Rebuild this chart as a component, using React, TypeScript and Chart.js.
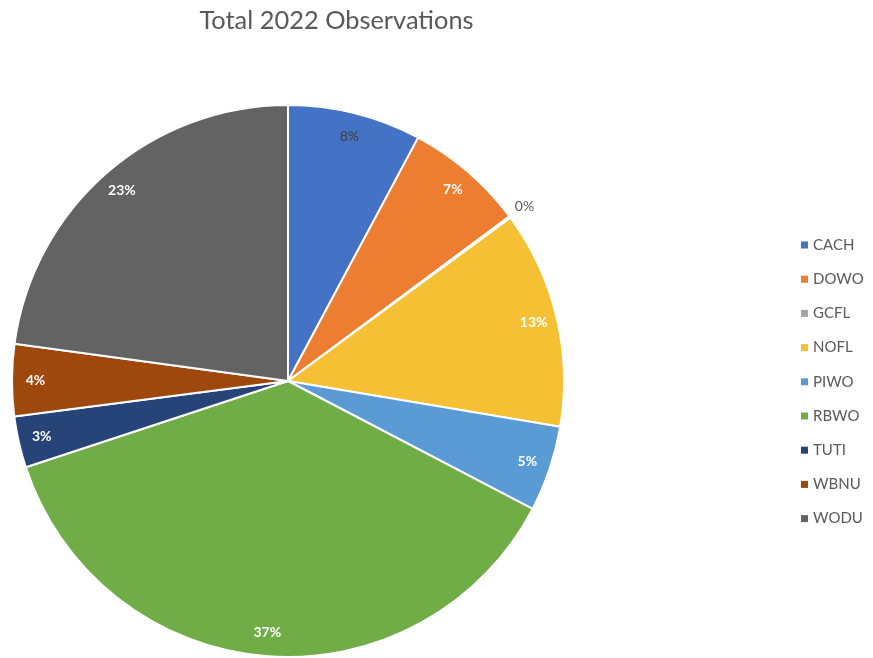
import React, { useEffect, useRef } from "react";
import { Chart, registerables } from "chart.js";

Chart.register(...registerables);

const TITLE = "Total 2022 Observations";
const CATEGORIES = ["CACH", "DOWO", "GCFL", "NOFL", "PIWO", "RBWO", "TUTI", "WBNU", "WODU"];
const COUNTS = [78, 70, 1, 127, 50, 372, 30, 42, 228];
const COLORS = ["#4472C4", "#ED7D31", "#A5A5A5", "#F5C033", "#5B9BD5", "#70AD47", "#264478", "#9E480E", "#636363"];
const LABEL_COLORS = ["#404040", "#FFFFFF", "#595959", "#FFFFFF", "#FFFFFF", "#FFFFFF", "#FFFFFF", "#FFFFFF", "#FFFFFF"];

const FONT = "Lato, 'Open Sans', sans-serif";

const overlayPlugin = {
  id: "overlay",
  afterDatasetsDraw(chart: any) {
    const ctx = chart.ctx;
    const meta = chart.getDatasetMeta(0);
    const data = chart.data.datasets[0].data as number[];
    const total = data.reduce((a, b) => a + b, 0);
    ctx.save();
    ctx.textAlign = "center";
    ctx.textBaseline = "middle";
    meta.data.forEach((arc: any, i: number) => {
      const p = arc.getProps(["x", "y", "startAngle", "endAngle", "outerRadius"], true);
      const mid = (p.startAngle + p.endAngle) / 2;
      const pct = Math.round((data[i] / total) * 100);
      const f = pct < 1 ? 1.065 : 0.915;
      const r = p.outerRadius * f;
      const white = LABEL_COLORS[i] === "#FFFFFF";
      ctx.font = `${white ? "bold " : ""}14px ${FONT}`;
      ctx.fillStyle = LABEL_COLORS[i];
      ctx.fillText(pct + "%", p.x + Math.cos(mid) * r, p.y + Math.sin(mid) * r);
    });
    // title
    ctx.fillStyle = "#595959";
    ctx.font = `25.4px ${FONT}`;
    ctx.fillText(TITLE, 336.5, 21);
    // legend
    ctx.font = `15px ${FONT}`;
    ctx.textAlign = "left";
    CATEGORIES.forEach((c, i) => {
      const y = 245 + i * 34.2;
      ctx.fillStyle = COLORS[i];
      ctx.fillRect(801, y - 3.5, 7, 7);
      ctx.fillStyle = "#595959";
      ctx.fillText(c, 813, y);
    });
    ctx.restore();
  },
};

export default function App() {
  const ref = useRef<HTMLCanvasElement>(null);
  useEffect(() => {
    document.body.style.margin = "0";
    const chart = new Chart(ref.current!, {
      type: "pie",
      data: {
        labels: CATEGORIES,
        datasets: [
          {
            data: COUNTS,
            backgroundColor: COLORS,
            borderColor: "#FFFFFF",
            borderWidth: 2,
          },
        ],
      },
      options: {
        animation: false,
        responsive: false,
        radius: 276,
        layout: { padding: { left: 12, right: 309, top: 105, bottom: 1 } },
        plugins: {
          legend: { display: false },
          title: { display: false },
          tooltip: { enabled: false },
        },
      } as any,
      plugins: [overlayPlugin],
    });
    return () => chart.destroy();
  }, []);
  return (
    <div style={{ width: 873, height: 658, background: "#fff" }}>
      <canvas ref={ref} width={873} height={658} style={{ display: "block" }} />
    </div>
  );
}
